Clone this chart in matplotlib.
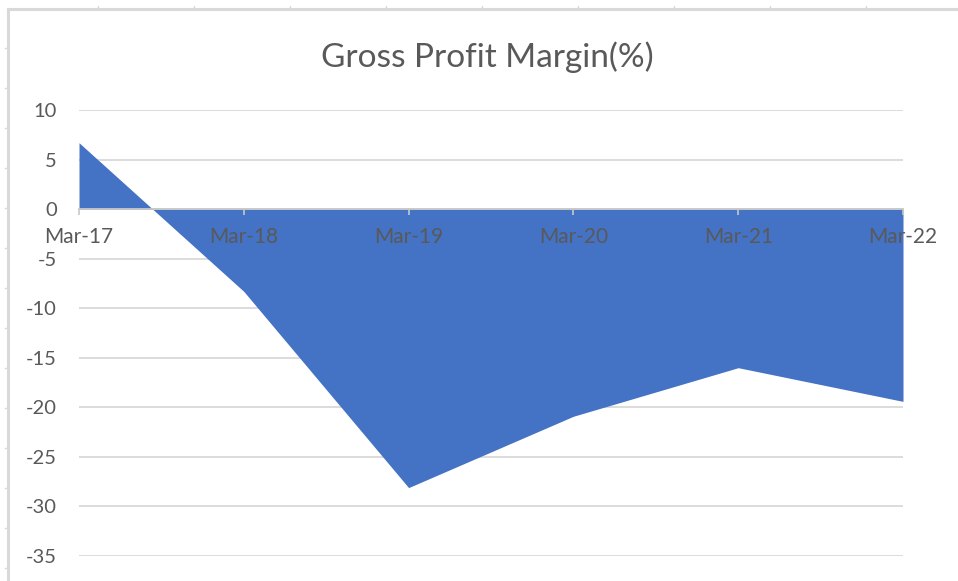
import matplotlib
matplotlib.use("Agg")
import matplotlib.pyplot as plt
from matplotlib.lines import Line2D

# --- DATA ---
periods = ["Mar-17", "Mar-18", "Mar-19", "Mar-20", "Mar-21", "Mar-22"]
gross_margin = [6.7, -8.3, -28.1, -20.9, -16.0, -19.4]
y_ticks = [10, 5, 0, -5, -10, -15, -20, -25, -30, -35]

# --- STYLE ---
FILL = "#4472C4"
GRID = "#d9d9d9"
TEXT = "#595959"
plt.rcParams['font.family'] = ['Lato', 'DejaVu Sans']

fig = plt.figure(figsize=(9.58, 5.81), dpi=100)
ax = fig.add_axes([79 / 958, 25 / 581, 824 / 958, 446 / 581])

x = list(range(len(periods)))
ax.fill_between(x, gross_margin, 0, color=FILL, linewidth=0, zorder=1)

ax.set_xlim(0, len(periods) - 1)
ax.set_ylim(min(y_ticks), max(y_ticks))
ax.set_yticks(y_ticks)
ax.set_yticklabels([str(v) for v in y_ticks])
ax.set_xticks(x)
ax.set_xticklabels(periods)

# gridlines under the fill, category labels over it
ax.yaxis.grid(True, color=GRID, linewidth=1.3)
ax.yaxis.set_zorder(0.5)
ax.xaxis.set_zorder(3)

for side in ("left", "right", "top"):
    ax.spines[side].set_visible(False)
ax.spines["bottom"].set_position(("data", 0))
ax.spines["bottom"].set_color("#c8c8c8")
ax.spines["bottom"].set_linewidth(1.3)
ax.spines["bottom"].set_zorder(2)

ax.tick_params(axis="y", length=0, pad=16, labelsize=14.5, labelcolor=TEXT)
ax.tick_params(axis="x", direction="out", length=4, width=1.2, color="#c8c8c8",
               pad=9, labelsize=15, labelcolor=TEXT)

fig.text(487 / 958, 1 - 57 / 581, "Gross Profit Margin(%)", ha="center", va="center",
         fontsize=24, color=TEXT)

# outer frame of the chart area (top and left edges with small ruler marks)
fx0, fy0 = 8 / 958, 1 - 9 / 581
fig.add_artist(Line2D([fx0, 1], [fy0, fy0], color=GRID, linewidth=2.2))
fig.add_artist(Line2D([fx0, fx0], [0, fy0], color=GRID, linewidth=2.2))
for px in range(98, 958, 96):
    fig.add_artist(Line2D([px / 958, px / 958], [fy0, 1 - 6 / 581], color=GRID, linewidth=1))
for py in range(48, 581, 40):
    fig.add_artist(Line2D([5 / 958, fx0], [1 - py / 581, 1 - py / 581], color=GRID, linewidth=1))

fig.savefig("out.png", dpi=100, facecolor="white")
